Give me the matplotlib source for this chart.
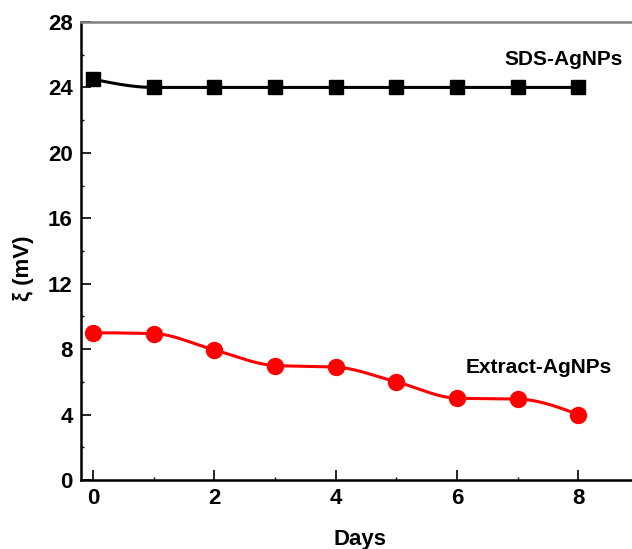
import numpy as np
import matplotlib
matplotlib.use("Agg")
import matplotlib.pyplot as plt
from matplotlib.ticker import MultipleLocator

days = [0, 1, 2, 3, 4, 5, 6, 7, 8]
sds_zeta = [24.5, 24.0, 24.0, 24.0, 24.0, 24.0, 24.0, 24.0, 24.0]
extract_zeta = [9.0, 8.95, 7.95, 7.0, 6.9, 6.0, 5.0, 4.95, 4.0]
series_labels = ["SDS-AgNPs", "Extract-AgNPs"]


def pchip(x, y, n=400):
    x = np.asarray(x, float)
    y = np.asarray(y, float)
    h = np.diff(x)
    delta = np.diff(y) / h
    m = len(x)
    d = np.zeros(m)
    for k in range(1, m - 1):
        if delta[k - 1] * delta[k] > 0:
            w1 = 2 * h[k] + h[k - 1]
            w2 = h[k] + 2 * h[k - 1]
            d[k] = (w1 + w2) / (w1 / delta[k - 1] + w2 / delta[k])
        else:
            d[k] = 0.0

    def end(h0, h1, d0, d1):
        s = ((2 * h0 + h1) * d0 - h0 * d1) / (h0 + h1)
        if np.sign(s) != np.sign(d0):
            s = 0.0
        elif np.sign(d0) != np.sign(d1) and abs(s) > abs(3 * d0):
            s = 3 * d0
        return s
    d[0] = end(h[0], h[1], delta[0], delta[1])
    d[-1] = end(h[-1], h[-2], delta[-1], delta[-2])
    xs = np.linspace(x[0], x[-1], n)
    idx = np.clip(np.searchsorted(x, xs) - 1, 0, m - 2)
    hh = h[idx]
    t = (xs - x[idx]) / hh
    h00 = 2 * t ** 3 - 3 * t ** 2 + 1
    h10 = t ** 3 - 2 * t ** 2 + t
    h01 = -2 * t ** 3 + 3 * t ** 2
    h11 = t ** 3 - t ** 2
    ys = h00 * y[idx] + h10 * hh * d[idx] + h01 * y[idx + 1] + h11 * hh * d[idx + 1]
    return xs, ys


plt.rcParams['font.family'] = ['Liberation Sans', 'DejaVu Sans']
plt.rcParams['font.weight'] = 'bold'

fig = plt.figure(figsize=(6.32, 5.49), dpi=100)
ax = fig.add_axes([81 / 632, (549 - 480) / 549, (639 - 81) / 632, (480 - 22) / 549])

xs, ys = pchip(days, sds_zeta)
ax.plot(xs, ys, color='black', lw=2.2, zorder=2)
ax.plot(days, sds_zeta, 's', color='black', ms=10, zorder=3)

xs, ys = pchip(days, extract_zeta)
ax.plot(xs, ys, color='#ff0000', lw=2.2, zorder=2)
ax.plot(days, extract_zeta, 'o', color='#ff0000', ms=11.5, zorder=3)

ax.set_xlim(-0.2, 9.0)
ax.set_ylim(0, 28)
ax.xaxis.set_major_locator(MultipleLocator(2))
ax.xaxis.set_minor_locator(MultipleLocator(1))
ax.yaxis.set_major_locator(MultipleLocator(4))
ax.yaxis.set_minor_locator(MultipleLocator(2))
ax.tick_params(which='major', direction='in', length=7, width=1.2, labelsize=16,
               top=False, right=False, pad=6)
ax.tick_params(which='minor', direction='in', length=2, width=1, top=False, right=False)
for lab in ax.get_xticklabels() + ax.get_yticklabels():
    lab.set_fontweight('bold')

ax.spines['left'].set_linewidth(1.8)
ax.spines['bottom'].set_linewidth(1.8)
ax.spines['top'].set_linewidth(1.8)
ax.spines['top'].set_color('#808080')
ax.spines['right'].set_visible(False)

ax.set_xlabel('Days', fontsize=16, fontweight='bold')
ax.xaxis.set_label_coords((360 - 81) / (639 - 81), -(540 - 480) / (480 - 22), transform=ax.transAxes)
ax.xaxis.label.set_va('center')
ax.set_ylabel('ξ (mV)', fontsize=16, fontweight='bold')
ax.yaxis.set_label_coords(-(81 - 24) / (639 - 81), (480 - 268) / (480 - 22), transform=ax.transAxes)
ax.yaxis.label.set_va('center')

ax.text(7.75, 25.7, series_labels[0], fontsize=15, fontweight='bold', ha='center', va='center')
ax.text(7.35, 6.85, series_labels[1], fontsize=15, fontweight='bold', ha='center', va='center')

fig.savefig('out.png', dpi=100)
